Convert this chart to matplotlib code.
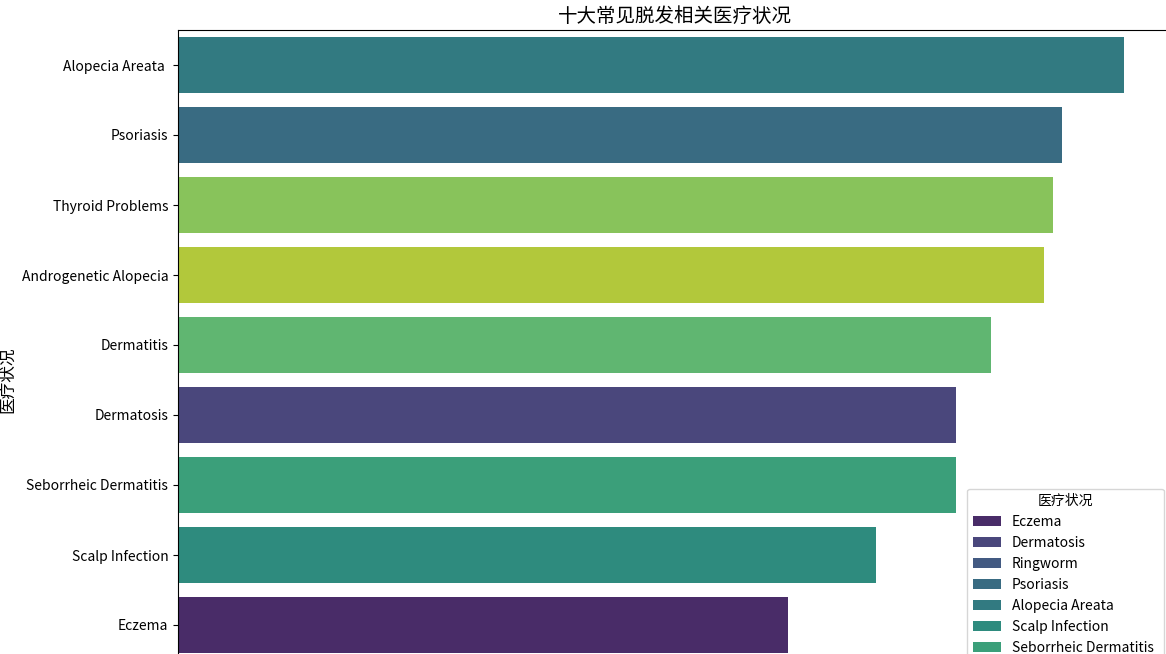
import matplotlib
matplotlib.use("Agg")
import matplotlib.pyplot as plt
import seaborn as sns
import pandas as pd

plt.rcParams['font.family'] = ['Noto Sans CJK SC', 'DejaVu Sans']

conditions = ["Alopecia Areata ", "Psoriasis", "Thyroid Problems", "Androgenetic Alopecia",
              "Dermatitis", "Dermatosis", "Seborrheic Dermatitis", "Scalp Infection",
              "Eczema", "Ringworm"]
counts = [107, 100, 99, 98, 92, 88, 88, 79, 69, 68]
hue_order = ["Eczema", "Dermatosis", "Ringworm", "Psoriasis", "Alopecia Areata ",
             "Scalp Infection", "Seborrheic Dermatitis", "Dermatitis",
             "Thyroid Problems", "Androgenetic Alopecia"]

title = "十大常见脱发相关医疗状况"
ylabel = "医疗状况"
xlabel = "数量"

df = pd.DataFrame({"cond": conditions, "count": counts})

fig = plt.figure(figsize=(11.66, 6.54), dpi=100)
W, H = 1166, 654
ax = fig.add_axes([178 / W, (H - 730) / H, 993 / W, 700 / H])

sns.barplot(data=df, x="count", y="cond", hue="cond", hue_order=hue_order,
            order=conditions, palette="viridis", dodge=False, ax=ax, legend=True)

ax.set_title(title, fontsize=14)
ax.set_ylabel(ylabel, fontsize=12)
ax.set_xlabel(xlabel, fontsize=12)
ax.tick_params(labelsize=10)

handles, labels = ax.get_legend_handles_labels()
ax.legend(handles, labels, title="医疗状况", loc="lower right", fontsize=10, title_fontsize=10)

fig.savefig("out.png", dpi=100)
